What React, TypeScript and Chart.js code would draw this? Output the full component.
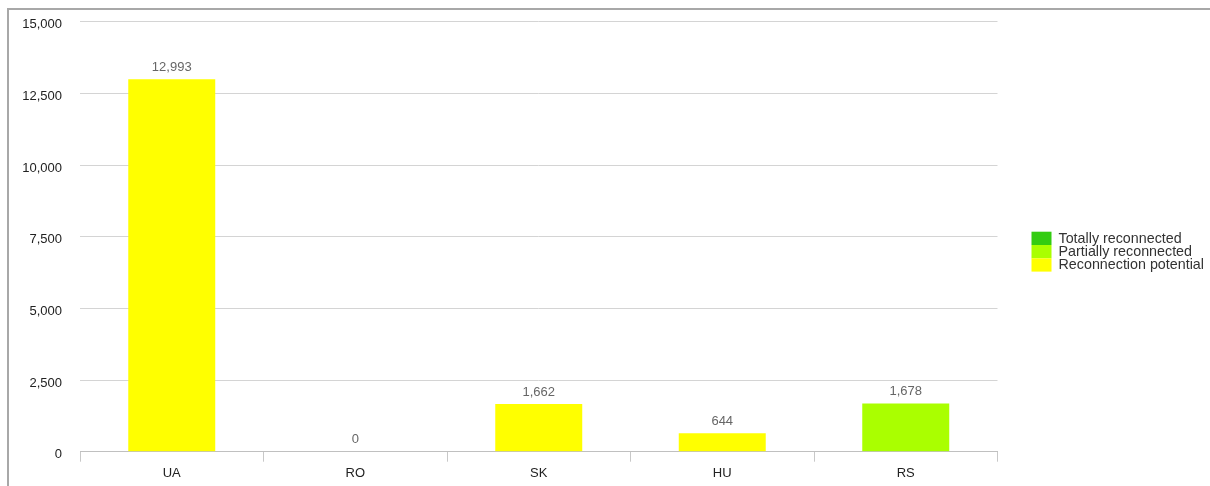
import React, { useEffect, useRef } from "react";
import { Chart, registerables } from "chart.js";

Chart.register(...registerables);

const categories = ["UA", "RO", "SK", "HU", "RS"];
const totallyReconnected = [0, 0, 0, 0, 0];
const partiallyReconnected = [0, 0, 0, 0, 1678];
const reconnectionPotential = [12993, 0, 1662, 644, 0];
const seriesLabels = ["Totally reconnected", "Partially reconnected", "Reconnection potential"];
const seriesColors = ["#33cc11", "#aaff00", "#ffff00"];
const yMax = 15000;
const yStep = 2500;

const FONT = "'Liberation Sans', Arial, sans-serif";

const totalsPlugin = {
  id: "totals",
  afterDatasetsDraw(chart: any) {
    const ctx = chart.ctx;
    const xs = chart.scales.x;
    const ys = chart.scales.y;
    ctx.save();
    ctx.font = `13px ${FONT}`;
    ctx.fillStyle = "#666666";
    ctx.textAlign = "center";
    ctx.textBaseline = "middle";
    categories.forEach((_, i) => {
      let total = 0;
      chart.data.datasets.forEach((ds: any) => (total += ds.data[i] || 0));
      const x = xs.getPixelForValue(i);
      const y = ys.getPixelForValue(total);
      ctx.fillText(total.toLocaleString("en-US"), x, y - 12);
    });
    ctx.restore();
  },
};

const legendPlugin = {
  id: "customLegend",
  afterDraw(chart: any) {
    const ctx = chart.ctx;
    const left = chart.chartArea.right + 34;
    const top = 221.7;
    const row = 13.3;
    ctx.save();
    ctx.font = `14.3px ${FONT}`;
    ctx.textBaseline = "middle";
    ctx.textAlign = "left";
    chart.data.datasets.forEach((ds: any, i: number) => {
      const y = top + i * row;
      ctx.fillStyle = ds.backgroundColor;
      ctx.fillRect(left, y, 20, row);
      ctx.fillStyle = "#333333";
      ctx.fillText(ds.label, left + 27, y + row / 2 + 0.5);
    });
    ctx.restore();
  },
};

export default function App() {
  const ref = useRef<HTMLCanvasElement | null>(null);
  useEffect(() => {
    if (!ref.current) return;
    const chart = new Chart(ref.current, {
      type: "bar",
      data: {
        labels: categories,
        datasets: [
          { label: seriesLabels[0], data: totallyReconnected, backgroundColor: seriesColors[0] },
          { label: seriesLabels[1], data: partiallyReconnected, backgroundColor: seriesColors[1] },
          { label: seriesLabels[2], data: reconnectionPotential, backgroundColor: seriesColors[2] },
        ],
      },
      options: {
        animation: false,
        responsive: false,
        maintainAspectRatio: false,
        datasets: { bar: { barPercentage: 0.474, categoryPercentage: 1 } },
        layout: { padding: { top: 11.7, right: 212.5, bottom: 0, left: 0 } },
        plugins: { legend: { display: false }, tooltip: { enabled: false } },
        scales: {
          x: {
            stacked: true,
            grid: { display: true, offset: true, drawOnChartArea: false, tickLength: 10, color: "#c8c8c8" },
            border: { display: true, color: "#c0c0c0" },
            ticks: { color: "#222222", font: { family: FONT, size: 13 }, padding: 4 },
            afterFit(scale: any) {
              scale.height = 34.3;
              scale.paddingLeft = 0;
              scale.paddingRight = 0;
            },
          },
          y: {
            stacked: true,
            min: 0,
            max: yMax,
            ticks: { stepSize: yStep, color: "#222222", font: { family: FONT, size: 13 }, padding: 18, labelOffset: 3 },
            grid: { color: "#d4d4d4", drawTicks: false },
            border: { display: false },
            afterFit(scale: any) {
              scale.width = 71;
              scale.paddingTop = 0;
              scale.paddingBottom = 0;
            },
          },
        },
      },
      plugins: [totalsPlugin, legendPlugin],
    });
    return () => chart.destroy();
  }, []);

  return (
    <div
      style={{
        position: "absolute",
        left: 7,
        top: 8,
        width: 1203,
        height: 478,
        borderTop: "2px solid #a8a8a8",
        borderLeft: "2px solid #a8a8a8",
        background: "#ffffff",
      }}
    >
      <canvas ref={ref} width={1201} height={476} style={{ display: "block" }} />
    </div>
  );
}
